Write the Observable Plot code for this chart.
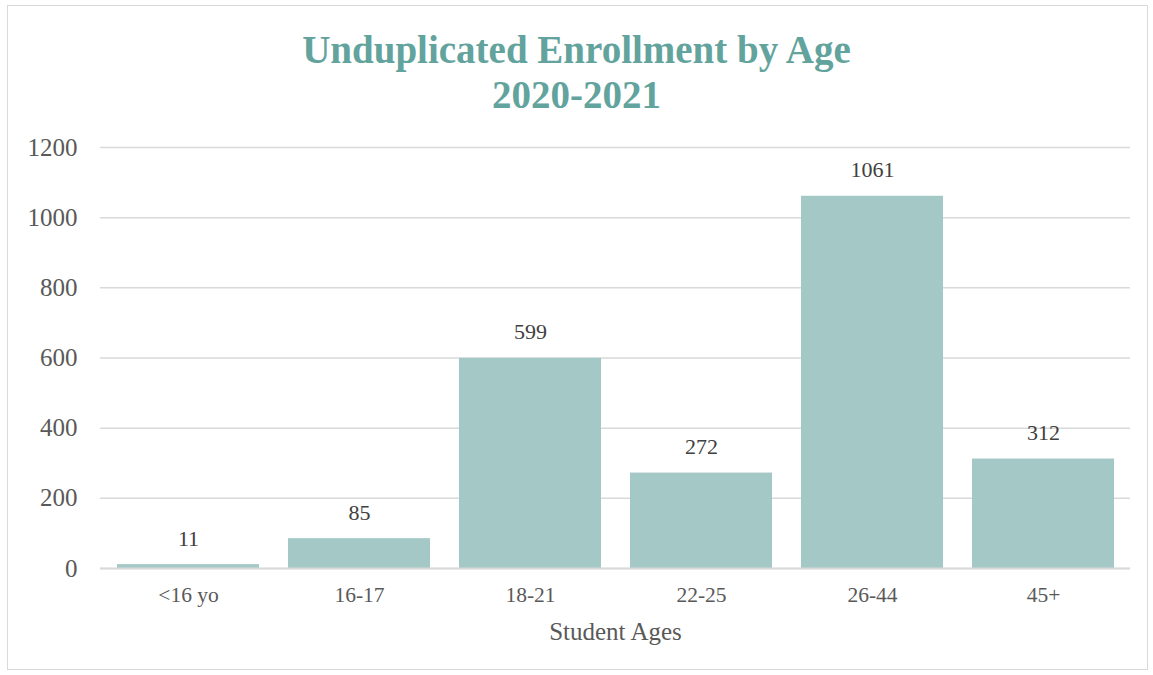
<!DOCTYPE html>
<html>
<head>
<meta charset="utf-8">
<script src="https://cdn.jsdelivr.net/npm/d3@7"></script>
<script src="https://cdn.jsdelivr.net/npm/@observablehq/plot@0.6"></script>
<style>
  html, body { margin: 0; padding: 0; background: #fff; }
  #wrap { position: relative; width: 1153px; height: 675px; overflow: hidden; }
  #border { position: absolute; left: 7px; top: 5px; width: 1141px; height: 665px; border: 1px solid #d9d9d9; box-sizing: border-box; pointer-events: none; }
  #title { position: absolute; left: 0; top: 0; width: 1153px; height: 125px; text-align: center;
    font-family: "Liberation Serif", serif; font-weight: bold; font-size: 39px; line-height: 45px; color: #62a39d; padding-top: 27px; box-sizing: border-box; }
  #chart { position: absolute; left: 0; top: 125px; }
</style>
</head>
<body>
<div id="wrap">
  <div id="border"></div>
  <div id="title">Unduplicated Enrollment by Age<br>2020-2021</div>
  <div id="chart"></div>
</div>
<script>
const categories = ["<16 yo", "16-17", "18-21", "22-25", "26-44", "45+"];
const values = [11, 85, 599, 272, 1061, 312];
const yTicks = [0, 200, 400, 600, 800, 1000, 1200];
const xTitle = "Student Ages";

const data = categories.map((c, i) => ({category: c, value: values[i]}));

const plot = Plot.plot({
  width: 1153,
  height: 550,
  marginTop: 22,
  marginBottom: 107,
  marginLeft: 100,
  marginRight: 23,
  style: {fontFamily: "Liberation Serif, serif", color: "#595959", background: "transparent"},
  x: {domain: categories, paddingInner: 0.17, paddingOuter: 0.085, label: null},
  y: {domain: [0, 1200], ticks: yTicks, label: null},
  marks: [
    Plot.ruleY(yTicks, {stroke: "#d9d9d9", strokeWidth: 1.5}),
    Plot.barY(data, {x: "category", y: "value", fill: "#a3c8c5"}),
    Plot.ruleY([0], {stroke: "#d9d9d9", strokeWidth: 2}),
    Plot.text(data, {x: "category", y: "value", text: d => String(d.value), dy: -26, lineAnchor: "middle", fontSize: 22, fill: "#404040"}),
    Plot.axisY({ticks: yTicks, tickSize: 0, tickPadding: 23, fontSize: 25, fill: "#595959", tickFormat: d => String(d), label: null}),
    Plot.axisX({tickSize: 0, tickPadding: 18, fontSize: 21.5, fill: "#595959", label: null}),
    Plot.text([xTitle], {frameAnchor: "bottom", dy: 63, lineAnchor: "middle", fontSize: 25, fill: "#595959"})
  ]
});
document.getElementById("chart").appendChild(plot);
</script>
</body>
</html>
